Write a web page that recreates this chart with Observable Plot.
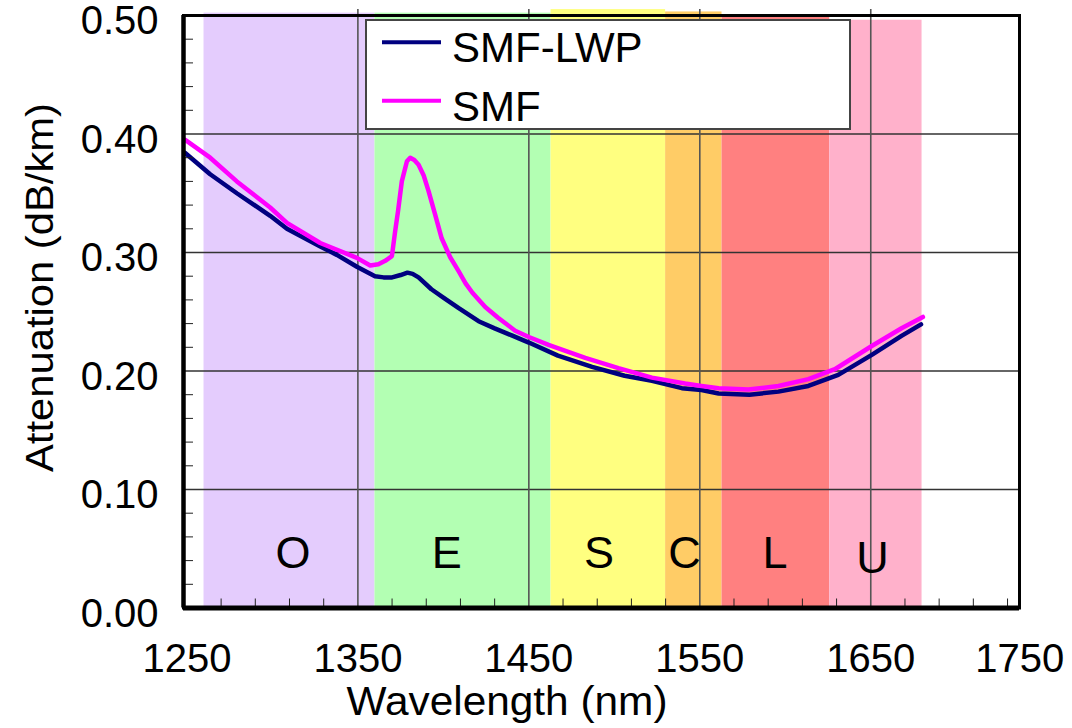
<!DOCTYPE html>
<html><head><meta charset="utf-8">
<script src="https://cdn.jsdelivr.net/npm/d3@7"></script>
<script src="https://cdn.jsdelivr.net/npm/@observablehq/plot@0.6"></script>
<style>body{margin:0;background:#fff;} svg{font-family:"Liberation Sans",Arial,sans-serif;}</style>
</head><body><div id="chart"></div>
<script>
// Wavelength bands
const bandNames  = ["O","E","S","C","L","U"];
const bandStart  = [1260,1360,1463,1530,1563,1626];
const bandEnd    = [1360,1463,1530,1563,1626,1680];
const bandTop    = [0.502,0.502,0.505,0.503,0.500,0.496];
const bandColors = ["#e4ccfd","#b3ffb3","#ffff80","#ffcc66","#ff8080","#ffb1cb"];
const bandLabelX = [1312,1402,1491,1541,1594,1651];
const bandLabelY = [0.046,0.046,0.046,0.046,0.046,0.042];

// SMF-LWP series
const lwpWavelength = [1249,1263.6,1279.2,1298.7,1308.5,1328,1337.7,1349.4,1360,1365,1370,1375,1379,1382,1385.5,1393,1400,1409,1420.6,1430,1440,1450,1467,1487,1506,1522,1539.5,1551,1561,1579,1596,1613.5,1631,1650.6,1668,1679.4];
const lwpAtten      = [0.384,0.366,0.350,0.331,0.320,0.305,0.298,0.288,0.280,0.279,0.279,0.281,0.283,0.282,0.279,0.269,0.262,0.253,0.242,0.236,0.230,0.224,0.213,0.2035,0.196,0.1917,0.1855,0.184,0.181,0.180,0.1826,0.1874,0.1967,0.2136,0.2296,0.2394];

// SMF series
const smfWavelength = [1249,1263.6,1279.2,1298.7,1308.5,1328,1349.4,1357.2,1362,1366,1369.9,1371.8,1373.5,1375.7,1378.7,1380.6,1383,1385.5,1388.5,1391.3,1395,1399,1404,1409,1413,1417,1424.5,1432,1442,1450,1461.5,1483,1502.4,1522,1541.4,1551,1561,1578.4,1596,1613.5,1629,1650.6,1668,1680.5];
const smfAtten      = [0.395,0.380,0.360,0.338,0.325,0.308,0.2955,0.289,0.290,0.293,0.297,0.318,0.335,0.360,0.377,0.380,0.378,0.374,0.365,0.352,0.333,0.312,0.296,0.284,0.274,0.266,0.254,0.245,0.234,0.2287,0.222,0.211,0.2024,0.1944,0.1894,0.1874,0.1855,0.1843,0.1874,0.1931,0.2015,0.2211,0.2361,0.2456];

const seriesNames = ["SMF-LWP","SMF"];
const seriesColors = ["#000080","#ff00ff"];

const xTicks = [1250,1350,1450,1550,1650];
const xExtraTick = [1750];
const yTicks = [0,0.1,0.2,0.3,0.4,0.5];
const yGrid = [0.1,0.2,0.3,0.4];
const xGrid = [1350,1450,1550,1650];
const xMinor = [1270,1290,1310,1330,1370,1390,1410,1430,1470,1490,1510,1530,1570,1590,1610,1630,1670,1690,1710,1730];
const yMinor = [0.02,0.04,0.06,0.08,0.12,0.14,0.16,0.18,0.22,0.24,0.26,0.28,0.32,0.34,0.36,0.38,0.42,0.44,0.46,0.48];

const bands = bandNames.map((n,i)=>({name:n,x1:bandStart[i],x2:bandEnd[i],top:bandTop[i],color:bandColors[i],lx:bandLabelX[i],ly:bandLabelY[i]}));
const lwp = lwpWavelength.map((w,i)=>({w,a:lwpAtten[i]}));
const smf = smfWavelength.map((w,i)=>({w,a:smfAtten[i]}));

const svg = Plot.plot({
  width:1072, height:728,
  marginLeft:183, marginRight:53, marginTop:15, marginBottom:120.5,
  style:{fontFamily:'"Liberation Sans",Arial,sans-serif', background:"white", overflow:"visible", color:"black"},
  x:{domain:[1248,1737]},
  y:{domain:[0,0.5]},
  marks:[
    Plot.rect(bands,{x1:"x1",x2:"x2",y1:0,y2:"top",fill:"color"}),
    Plot.ruleY(yGrid,{stroke:"#333",strokeWidth:1.4}),
    Plot.ruleX(xGrid,{y1:0,y2:0.505,stroke:"#555",strokeWidth:1.6}),
    Plot.text(bands,{x:"lx",y:"ly",text:"name",fontSize:45,fill:"black"}),
    Plot.line(lwp,{x:"w",y:"a",stroke:seriesColors[0],strokeWidth:4.5}),
    Plot.line(smf,{x:"w",y:"a",stroke:seriesColors[1],strokeWidth:4.5}),
    Plot.axisX({ticks:xMinor,tickSize:-9,tickFormat:()=>"",stroke:"#222",label:null}),
    Plot.axisY({ticks:yMinor,tickSize:-10,tickFormat:()=>"",stroke:"#222",label:null}),
    Plot.frame({stroke:"black",strokeWidth:3}),
    Plot.ruleX([1248],{stroke:"black",strokeWidth:4.5}),
    Plot.ruleY([0],{stroke:"black",strokeWidth:5}),
    Plot.axisY({ticks:yTicks,tickFormat:d3.format(".2f"),tickSize:0,tickPadding:25,fontSize:40,dy:6,label:null}),
    Plot.axisX({ticks:xTicks,tickFormat:d3.format("d"),tickSize:0,tickPadding:36,fontSize:40,label:null}),
    Plot.axisX({ticks:xExtraTick,tickFormat:d3.format("d"),tickSize:0,tickPadding:36,fontSize:40,dx:-22,label:null})
  ]
});

const s = d3.select(svg);
// axis titles
s.append("text").attr("x",507).attr("y",715).attr("text-anchor","middle")
  .attr("font-size",40).attr("textLength",321).attr("lengthAdjust","spacingAndGlyphs")
  .attr("fill","black").text("Wavelength (nm)");
s.append("text").attr("transform","translate(53,287.5) rotate(-90)").attr("text-anchor","middle")
  .attr("font-size",39).attr("textLength",369).attr("lengthAdjust","spacingAndGlyphs")
  .attr("fill","black").text("Attenuation (dB/km)");
// legend
const lg = s.append("g").attr("text-anchor","start");
lg.append("rect").attr("x",366).attr("y",20).attr("width",484).attr("height",109)
  .attr("fill","white").attr("stroke","#444").attr("stroke-width",2);
[42.3,100.7].forEach((yy,i)=>{
  lg.append("line").attr("x1",382).attr("x2",441).attr("y1",yy).attr("y2",yy)
    .attr("stroke",seriesColors[i]).attr("stroke-width",4);
  lg.append("text").attr("x",452).attr("y",yy+20).attr("font-size",42)
    .attr("text-anchor","start").attr("fill","black").text(seriesNames[i]);
});
document.getElementById("chart").appendChild(svg);
</script>
</body></html>
